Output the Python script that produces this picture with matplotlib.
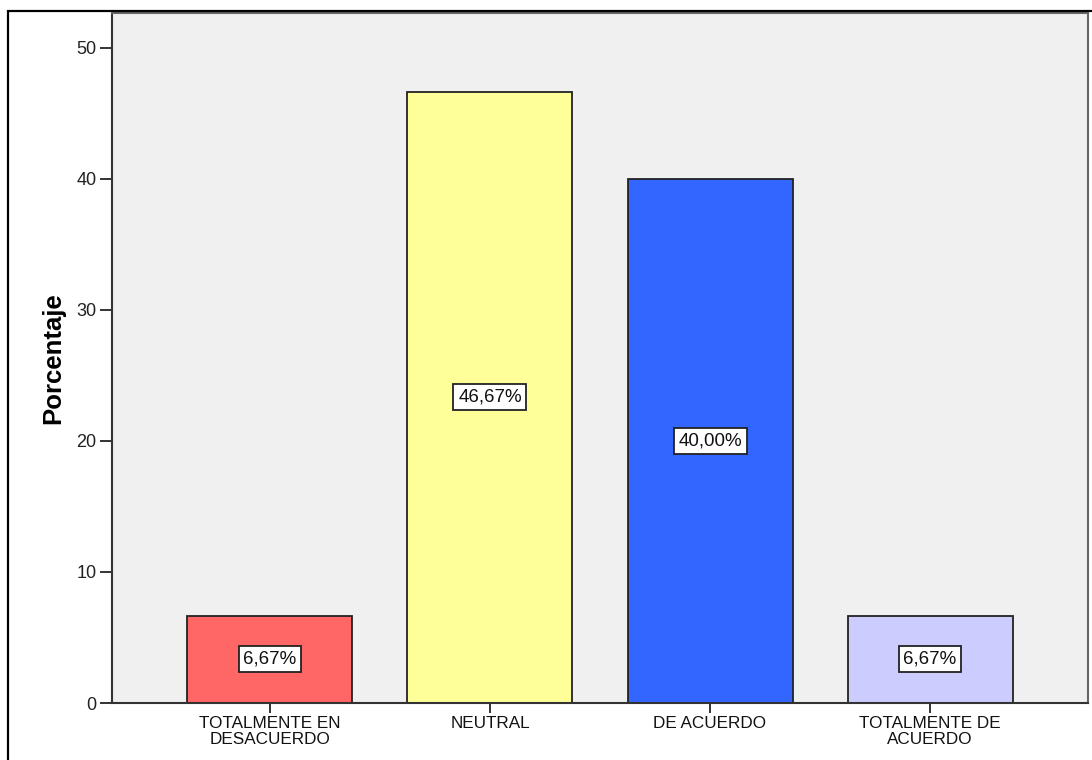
import matplotlib
matplotlib.use("Agg")
import matplotlib.pyplot as plt
from matplotlib.patches import Rectangle

# data
categorias = ["TOTALMENTE EN\nDESACUERDO", "NEUTRAL", "DE ACUERDO", "TOTALMENTE DE\nACUERDO"]
porcentajes = [6.67, 46.67, 40.00, 6.67]
etiquetas = ["6,67%", "46,67%", "40,00%", "6,67%"]
colores = ["#FF6666", "#FFFF99", "#3366FF", "#CCCCFF"]
yticks = [0, 10, 20, 30, 40, 50]

plt.rcParams['font.family'] = ['Liberation Sans', 'DejaVu Sans']

W, H = 1092, 760
fig = plt.figure(figsize=(W/100, H/100), dpi=100)
ax = fig.add_axes([112/W, (H-703)/H, (1088-112)/W, (703-13)/H])
ax.set_facecolor("#F0F0F0")

x = list(range(len(categorias)))
ax.bar(x, porcentajes, width=0.75, color=colores, edgecolor="#222222", linewidth=1.3, zorder=2)

for xi, v, t in zip(x, porcentajes, etiquetas):
	ax.text(xi, v/2, t, ha="center", va="center", fontsize=13.5, color="#111111", zorder=3,
		bbox=dict(boxstyle="square,pad=0.25", fc="white", ec="#222222", lw=1.3))

ax.set_xlim(-0.718, 3.718)
ax.set_ylim(0, 52.67)
ax.set_yticks(yticks)
ax.set_yticklabels([str(t) for t in yticks])
ax.set_xticks(x)
ax.set_xticklabels(categorias, fontsize=12.3, linespacing=1.1)
ax.tick_params(axis="y", labelsize=13, length=9, width=1.4, pad=2, color="#333333", labelcolor="#222222")
ax.tick_params(axis="x", length=7, width=1.4, pad=2, color="#333333", labelcolor="#111111")

ax.set_ylabel("Porcentaje", fontsize=18.5, fontweight="bold", labelpad=8)

for s in ["left", "bottom"]:
	ax.spines[s].set_color("#333333")
	ax.spines[s].set_linewidth(1.5)
for s in ["top", "right"]:
	ax.spines[s].set_color("#666666")
	ax.spines[s].set_linewidth(1.5)

# outer frame (cut off at right and bottom in the reference)
fig.patches.append(Rectangle((8/W, -0.1), 1.2, (H-11)/H + 0.1, transform=fig.transFigure,
	fill=False, ec="black", lw=1.6))

fig.savefig("out.png", dpi=100)
